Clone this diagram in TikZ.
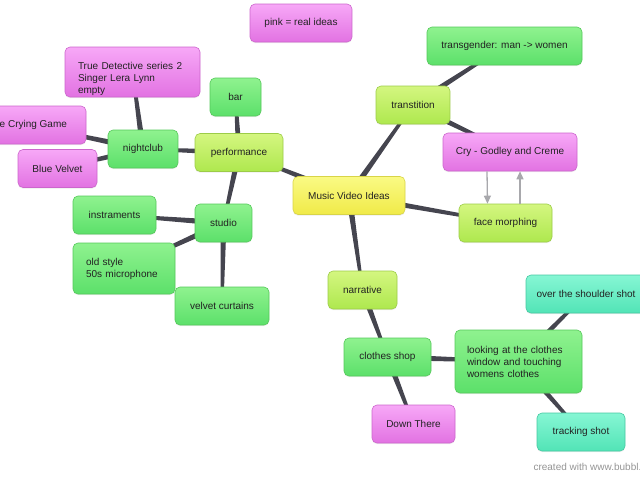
\documentclass[tikz,border=0pt]{standalone}
\usepackage{fontspec}
\setmainfont{Liberation Sans}
\usetikzlibrary{calc,arrows.meta,backgrounds,shadows}
\definecolor{txt}{HTML}{222222}
\definecolor{stemcol}{HTML}{45454F}
\definecolor{linkgray}{HTML}{A8A8AC}
\definecolor{pinktop}{HTML}{F7A8F7}
\definecolor{pinkbot}{HTML}{E272E2}
\definecolor{pinkline}{HTML}{CC66CC}
\definecolor{greentop}{HTML}{8FF28F}
\definecolor{greenbot}{HTML}{5CE06A}
\definecolor{greenline}{HTML}{55C85A}
\definecolor{limetop}{HTML}{D4F680}
\definecolor{limebot}{HTML}{AEE84E}
\definecolor{limeline}{HTML}{9CCC48}
\definecolor{yellowtop}{HTML}{FAFA84}
\definecolor{yellowbot}{HTML}{F0EA48}
\definecolor{yellowline}{HTML}{D8D448}
\definecolor{tealtop}{HTML}{86F6D4}
\definecolor{tealbot}{HTML}{52E4B6}
\definecolor{tealline}{HTML}{46C8A2}
\newcommand{\branch}[2]{
  \fill[stemcol] ($(#1.center)!3pt!90:(#2.center)$) -- ($(#2.center)!1.4pt!-90:(#1.center)$) -- ($(#2.center)!1.4pt!90:(#1.center)$) -- ($(#1.center)!3pt!-90:(#2.center)$) -- cycle;}

\begin{document}
\begin{tikzpicture}[x=1pt,y=-1pt,
	bub/.style={rounded corners=5pt,draw,line width=0.6pt,inner sep=0pt,minimum height=38pt,text=txt,font=\fontsize{10}{12}\selectfont,drop shadow={shadow xshift=0pt,shadow yshift=-1.2pt,opacity=0.15}},
	idea/.style={bub,draw=pinkline,top color=pinktop,bottom color=pinkbot},
	leaf/.style={bub,draw=greenline,top color=greentop,bottom color=greenbot},
	topic/.style={bub,draw=limeline,top color=limetop,bottom color=limebot},
	hub/.style={bub,draw=yellowline,top color=yellowtop,bottom color=yellowbot},
	shot/.style={bub,draw=tealline,top color=tealtop,bottom color=tealbot},
	link/.style={draw=linkgray,line width=1.3pt,-{Triangle[length=8pt,width=7pt]}}]
					%\draw[help lines] (0,0) grid (640,480);
					\useasboundingbox (0,0) rectangle (640,480);
					%LEGEND
					\node[idea,minimum width=102pt] (legend) at (301,23) {pink = real ideas};
					%CENTRE
					\node[hub,minimum width=112pt] (music) at (349,195.5) {Music Video Ideas};
					%PERFORMANCE
					\node[topic,minimum width=88pt] (perf) at (239,152.5) {performance};
					\node[leaf,minimum width=51pt] (bar) at (235.5,97) {bar};
					\node[leaf,minimum width=70pt] (club) at (143,149) {nightclub};
					\node[idea,minimum width=135pt,minimum height=50pt,text width=109pt,align=left] (truedet) at (132.5,72) {\rule{0pt}{22pt}True Detective series 2\\Singer Lera Lynn\\empty};
					\node[idea,minimum width=117pt] (crying) at (27.5,125) {The Crying Game};
					\node[idea,minimum width=79pt] (velvetb) at (57.5,168.5) {Blue Velvet};
					\node[leaf,minimum width=57pt] (studio) at (223.5,223) {studio};
					\node[leaf,minimum width=83pt] (instr) at (114.5,215) {instraments};
					\node[leaf,minimum width=102pt,minimum height=51pt,text width=76pt,align=left] (mic) at (124,268.5) {old style\\50s microphone};
					\node[leaf,minimum width=94pt] (curtain) at (222,306) {velvet curtains};
					%TRANSITION
					\node[topic,minimum width=74pt] (trans) at (413,105) {transtition};
					\node[leaf,minimum width=155pt] (gender) at (504.5,46) {transgender: man -> women};
					\node[idea,minimum width=134pt] (cry) at (510,152) {Cry - Godley and Creme};
					\node[topic,minimum width=93pt] (morph) at (505.5,223) {face morphing};
					%NARRATIVE
					\node[topic,minimum width=69pt] (narr) at (362.5,290) {narrative};
					\node[leaf,minimum width=87pt] (shop) at (387.5,357) {clothes shop};
					\node[idea,minimum width=83pt] (down) at (413.5,424) {Down There};
					\node[leaf,minimum width=127pt,minimum height=63pt,text width=103pt,align=left] (window) at (518.5,361.5) {looking at the clothes\\window and touching\\womens clothes};
					\node[shot,minimum width=120pt] (shoulder) at (586,294) {over the shoulder shot};
					\node[shot,minimum width=88pt] (track) at (581,432) {tracking shot};
					%BRANCHES
					\begin{scope}[on background layer]
					\branch{music}{perf} \branch{music}{trans} \branch{music}{morph} \branch{music}{narr}
					\branch{perf}{bar} \branch{perf}{club} \branch{perf}{studio}
					\branch{club}{truedet} \branch{club}{crying} \branch{club}{velvetb}
					\branch{studio}{instr} \branch{studio}{mic} \branch{studio}{curtain}
					\branch{trans}{gender} \branch{trans}{cry}
					\branch{narr}{shop} \branch{shop}{down} \branch{shop}{window}
					\branch{window}{shoulder} \branch{window}{track}
					\end{scope}
					%LINKS
					\draw[link] ([xshift=-23pt]cry.south) -- ([xshift=-18pt]morph.north);
					\draw[link] ([xshift=14.5pt]morph.north) -- ([xshift=10pt]cry.south);
					\node[anchor=west,text=black!42,font=\fontsize{10}{12}\selectfont] (credit) at (530,467) {created with www.bubbl.us};
	  \end{tikzpicture}
\end{document}
